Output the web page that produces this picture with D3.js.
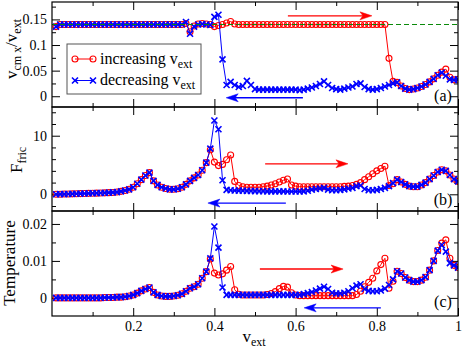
<!DOCTYPE html>
<html><head><meta charset="utf-8">
<script src="https://cdn.jsdelivr.net/npm/d3@7/dist/d3.min.js"></script>
<style>
html,body{margin:0;padding:0;background:#fff}
svg{display:block}
</style>
</head><body>
<svg id="chart" width="463" height="350"></svg>
<script>
// ---------- data ----------
const vext = [0.01,0.02,0.03,0.04,0.05,0.06,0.07,0.08,0.09,0.10,
0.11,0.12,0.13,0.14,0.15,0.16,0.17,0.18,0.19,0.20,
0.21,0.22,0.23,0.24,0.25,0.26,0.27,0.28,0.29,0.30,
0.31,0.32,0.33,0.34,0.35,0.36,0.37,0.38,0.39,0.40,
0.41,0.42,0.43,0.44,0.45,0.46,0.47,0.48,0.49,0.50,
0.51,0.52,0.53,0.54,0.55,0.56,0.57,0.58,0.59,0.60,
0.61,0.62,0.63,0.64,0.65,0.66,0.67,0.68,0.69,0.70,
0.71,0.72,0.73,0.74,0.75,0.76,0.77,0.78,0.79,0.80,
0.81,0.82,0.83,0.84,0.85,0.86,0.87,0.88,0.89,0.90,
0.91,0.92,0.93,0.94,0.95,0.96,0.97,0.98,0.99,1.00];

const velIncreasing = [0.136,0.14,0.14,0.14,0.14,0.14,0.14,0.14,0.14,0.14,
0.14,0.14,0.14,0.14,0.14,0.14,0.14,0.14,0.14,0.14,
0.14,0.14,0.14,0.14,0.14,0.14,0.14,0.14,0.14,0.14,
0.14,0.14,0.142,0.126,0.137,0.141,0.142,0.141,0.140,0.136,
0.138,0.140,0.143,0.146,0.141,0.14,0.14,0.14,0.14,0.14,
0.14,0.14,0.14,0.14,0.14,0.14,0.14,0.14,0.14,0.14,
0.14,0.14,0.14,0.14,0.14,0.14,0.14,0.14,0.14,0.14,
0.14,0.14,0.14,0.14,0.14,0.14,0.14,0.14,0.14,0.14,
0.14,0.14,0.074,0.029,0.027,0.020,0.015,0.013,0.014,0.016,
0.019,0.023,0.028,0.034,0.041,0.047,0.053,0.037,0.032,0.033];

const velDecreasing = [0.136,0.14,0.14,0.14,0.14,0.14,0.14,0.14,0.14,0.14,
0.14,0.14,0.14,0.14,0.14,0.14,0.14,0.14,0.14,0.14,
0.14,0.14,0.14,0.14,0.14,0.14,0.14,0.14,0.14,0.14,
0.14,0.14,0.145,0.122,0.136,0.140,0.141,0.140,0.139,0.155,
0.159,0.072,0.022,0.028,0.022,0.018,0.020,0.030,0.022,0.014,
0.013,0.013,0.013,0.013,0.013,0.013,0.013,0.013,0.013,0.013,
0.012,0.013,0.015,0.017,0.020,0.024,0.029,0.022,0.016,0.014,
0.013,0.015,0.017,0.019,0.024,0.025,0.018,0.014,0.013,0.014,
0.016,0.019,0.022,0.025,0.027,0.020,0.015,0.013,0.014,0.016,
0.019,0.023,0.028,0.034,0.041,0.046,0.040,0.033,0.032,0.033];

const fricIncreasing = [0.00,0.02,0.04,0.06,0.08,0.10,0.12,0.14,0.16,0.18,
0.20,0.22,0.25,0.28,0.32,0.38,0.50,0.65,0.85,1.20,
1.80,2.50,3.20,3.70,2.30,1.60,1.20,1.00,0.85,0.85,
0.95,1.20,1.70,2.30,2.80,3.30,4.10,5.40,7.60,5.50,
4.90,5.10,5.90,6.70,2.20,1.50,1.30,1.20,1.20,1.20,
1.20,1.30,1.40,1.60,1.80,2.10,2.40,2.60,1.60,1.40,
1.30,1.30,1.30,1.30,1.30,1.30,1.30,1.30,1.30,1.30,
1.30,1.35,1.40,1.50,1.70,2.00,2.50,3.00,3.50,4.00,
4.40,4.80,1.50,1.80,2.50,2.10,1.70,1.40,1.30,1.30,
1.60,2.00,2.60,3.20,3.80,4.20,4.00,3.30,2.60,2.20];

const fricDecreasing = [0.00,0.02,0.04,0.06,0.08,0.10,0.12,0.14,0.16,0.18,
0.20,0.22,0.25,0.28,0.32,0.38,0.50,0.65,0.85,1.20,
1.80,2.50,3.20,3.70,2.30,1.60,1.20,1.00,0.85,0.85,
0.95,1.20,1.70,2.30,2.80,3.30,4.10,5.40,7.80,12.60,
11.10,2.40,0.75,0.70,0.65,0.62,0.60,0.58,0.56,0.55,
0.52,0.52,0.50,0.50,0.50,0.50,0.50,0.48,0.48,0.48,
0.48,0.50,0.60,0.80,0.90,1.00,1.10,0.80,0.70,0.70,
0.75,0.85,1.00,1.10,1.40,1.50,0.90,0.70,0.70,0.75,
0.90,1.10,1.40,1.90,2.50,2.10,1.70,1.40,1.30,1.30,
1.60,2.00,2.60,3.20,3.80,4.20,4.00,3.30,2.60,2.20];

const tempIncreasing = [0.0000,0.0000,0.0000,0.0000,0.0000,0.0000,0.0000,0.0000,0.0000,0.0000,
0.0000,0.0000,0.0001,0.0001,0.0001,0.0002,0.0002,0.0003,0.0005,0.0008,
0.0013,0.0019,0.0024,0.0028,0.0015,0.0008,0.0005,0.0004,0.0004,0.0005,
0.0007,0.0011,0.0018,0.0026,0.0030,0.0037,0.0053,0.0071,0.0105,0.0067,
0.0062,0.0065,0.0075,0.0085,0.0022,0.0010,0.0008,0.0008,0.0008,0.0008,
0.0008,0.0008,0.0009,0.0012,0.0017,0.0025,0.0031,0.0029,0.0014,0.0008,
0.0006,0.0006,0.0006,0.0006,0.0006,0.0006,0.0006,0.0006,0.0006,0.0006,
0.0006,0.0006,0.0006,0.0006,0.0009,0.0018,0.0030,0.0042,0.0053,0.0073,
0.0090,0.0107,0.0026,0.0045,0.0072,0.0066,0.0055,0.0048,0.0044,0.0044,
0.0048,0.0056,0.0075,0.0100,0.0128,0.0148,0.0157,0.0107,0.0088,0.0082];

const tempDecreasing = [0.0000,0.0000,0.0000,0.0000,0.0000,0.0000,0.0000,0.0000,0.0000,0.0000,
0.0000,0.0000,0.0001,0.0001,0.0001,0.0002,0.0002,0.0003,0.0005,0.0008,
0.0013,0.0019,0.0024,0.0028,0.0015,0.0008,0.0005,0.0004,0.0004,0.0005,
0.0007,0.0011,0.0018,0.0026,0.0030,0.0037,0.0053,0.0071,0.0107,0.0193,
0.0136,0.0028,0.0008,0.0008,0.0008,0.0008,0.0008,0.0008,0.0008,0.0008,
0.0008,0.0008,0.0008,0.0008,0.0008,0.0008,0.0008,0.0008,0.0008,0.0008,
0.0008,0.0010,0.0013,0.0016,0.0020,0.0025,0.0030,0.0024,0.0014,0.0012,
0.0012,0.0014,0.0018,0.0026,0.0033,0.0037,0.0024,0.0019,0.0018,0.0018,
0.0020,0.0025,0.0035,0.0050,0.0072,0.0066,0.0055,0.0048,0.0044,0.0044,
0.0048,0.0056,0.0075,0.0100,0.0128,0.0143,0.0125,0.0094,0.0088,0.0082];

const xMajorTicks = [0.2,0.4,0.6,0.8,1];
const xTickLabels = ["0.2","0.4","0.6","0.8","1"];
const xMinorTicks = [0.1,0.3,0.5,0.7,0.9];
const velMajorTicks = [0,0.05,0.1,0.15];
const velTickLabels = ["0","0.05","0.1","0.15"];
const velMinorTicks = [0.025,0.075,0.125,0.175];
const fricMajorTicks = [0,10];
const fricTickLabels = ["0","10"];
const fricMinorTicks = [-2,2,4,6,8,12,14];
const tempMajorTicks = [0,0.01,0.02];
const tempTickLabels = ["0","0.01","0.02"];
const tempMinorTicks = [0.005,0.015];
const plateauValue = 0.14;
const legendLabels = ["increasing", "decreasing"];
const panelLetters = ["(a)","(b)","(c)"];
// arrows: [xTail, xHead, y]
const velArrows = [[0.581,0.788,0.157],[0.618,0.429,-0.003]];
const fricArrows = [[0.525,0.729,5.2],[0.576,0.384,-1.5]];
const tempArrows = [[0.512,0.717,0.0078],[0.81,0.621,-0.0027]];

// ---------- layout ----------
const svg = d3.select("#chart");
const FONT = "Liberation Serif";
const left = 52, right = 458;
const RED = "#ff0000", BLUE = "#0000ff";

const x = d3.scaleLinear().domain([0,1]).range([left,right]);

const panels = [
  {top:2, bottom:107, domain:[-0.021,0.184], inc:velIncreasing, dec:velDecreasing,
   major:velMajorTicks, labels:velTickLabels, minor:velMinorTicks, arrows:velArrows,
   letterY:101},
  {top:107, bottom:211, domain:[-2.85,14.9], inc:fricIncreasing, dec:fricDecreasing,
   major:fricMajorTicks, labels:fricTickLabels, minor:fricMinorTicks, arrows:fricArrows,
   letterY:205},
  {top:211, bottom:316, domain:[-0.0049,0.0235], inc:tempIncreasing, dec:tempDecreasing,
   major:tempMajorTicks, labels:tempTickLabels, minor:tempMinorTicks, arrows:tempArrows,
   letterY:307}
];

const crossPath = "M-3,-3L3,3M-3,3L3,-3";

panels.forEach((p, pi) => {
  const y = d3.scaleLinear().domain(p.domain).range([p.bottom, p.top]);
  const g = svg.append("g");
  const clipId = "clip" + pi;
  svg.append("clipPath").attr("id", clipId).append("rect")
    .attr("x", left).attr("y", p.top).attr("width", right-left).attr("height", p.bottom-p.top);

  const mk = (axisFn, scale, vals, size, fmt, tr) => {
    const a = axisFn(scale).tickValues(vals).tickSize(size).tickSizeOuter(0).tickPadding(5);
    a.tickFormat(fmt);
    const ag = g.append("g").attr("transform", tr).call(a);
    ag.attr("font-family", FONT);
    ag.select(".domain").remove();
    ag.selectAll("line").attr("stroke","#000").attr("stroke-width",1);
    ag.selectAll("text").attr("font-size", 14).attr("fill","#000");
    return ag;
  };
  const blank = () => "";
  const xMajFmt = (d,i) => (pi === 2 ? xTickLabels[i] : "");
  mk(d3.axisBottom, x, xMajorTicks, -8, xMajFmt, `translate(0,${p.bottom})`);
  mk(d3.axisBottom, x, xMinorTicks, -4, blank, `translate(0,${p.bottom})`);
  mk(d3.axisTop, x, xMajorTicks, -8, blank, `translate(0,${p.top})`);
  mk(d3.axisTop, x, xMinorTicks, -4, blank, `translate(0,${p.top})`);
  mk(d3.axisLeft, y, p.major, -8, (d,i) => p.labels[i], `translate(${left},0)`);
  mk(d3.axisLeft, y, p.minor, -4, blank, `translate(${left},0)`);
  mk(d3.axisRight, y, p.major, -8, blank, `translate(${right},0)`);
  mk(d3.axisRight, y, p.minor, -4, blank, `translate(${right},0)`);

  const data = vext.map((v,i) => ({v, inc:p.inc[i], dec:p.dec[i]}));
  const plot = g.append("g").attr("clip-path", `url(#${clipId})`);

  plot.append("path").datum(data)
    .attr("d", d3.line().x(d=>x(d.v)).y(d=>y(d.inc)))
    .attr("fill","none").attr("stroke",RED).attr("stroke-width",1);
  plot.selectAll(".inc").data(data).enter().append("circle")
    .attr("cx", d=>x(d.v)).attr("cy", d=>y(d.inc)).attr("r",3)
    .attr("fill","none").attr("stroke",RED).attr("stroke-width",1.1);

  plot.append("path").datum(data)
    .attr("d", d3.line().x(d=>x(d.v)).y(d=>y(d.dec)))
    .attr("fill","none").attr("stroke",BLUE).attr("stroke-width",1);
  plot.selectAll(".dec").data(data).enter().append("path")
    .attr("d", crossPath)
    .attr("transform", d=>`translate(${x(d.v)},${y(d.dec)})`)
    .attr("fill","none").attr("stroke",BLUE).attr("stroke-width",1.6);

  if (pi === 0) {
    plot.append("line")
      .attr("x1", x(0)).attr("x2", x(1))
      .attr("y1", y(plateauValue)).attr("y2", y(plateauValue))
      .attr("stroke","#0a8a0a").attr("stroke-width",1.1).attr("stroke-dasharray","5,3");
  }

  p.arrows.forEach((a, ai) => {
    const col = ai === 0 ? RED : BLUE;
    const xt = x(a[0]), xh = x(a[1]), yy = y(a[2]);
    const dir = xh > xt ? 1 : -1;
    g.append("line").attr("x1", xt).attr("x2", xh - dir*8).attr("y1", yy).attr("y2", yy)
      .attr("stroke", col).attr("stroke-width", 1.4);
    g.append("path")
      .attr("d", `M${xh},${yy}L${xh-dir*12},${yy-4}L${xh-dir*9},${yy}L${xh-dir*12},${yy+4}Z`)
      .attr("fill", col).attr("stroke", col).attr("stroke-width", 0.5);
  });

  g.append("rect").attr("x", left).attr("y", p.top).attr("width", right-left)
    .attr("height", p.bottom-p.top).attr("fill","none").attr("stroke","#000").attr("stroke-width",1.2);

  g.append("text").attr("x", 443).attr("y", p.letterY).attr("text-anchor","middle")
    .attr("font-family", FONT).attr("font-size", 16).text(panelLetters[pi]);
});

function subText(sel, parts) {
  parts.forEach(pt => {
    const t = sel.append("tspan").text(pt.t);
    if (pt.sub) t.attr("font-size", 12).attr("dy", 4);
    else if (pt.up) t.attr("dy", -4);
  });
}
const xt = svg.append("text").attr("x", 254).attr("y", 342).attr("text-anchor","middle")
  .attr("font-family", FONT).attr("font-size", 17);
subText(xt, [{t:"v"},{t:"ext", sub:true}]);

const yA = svg.append("text").attr("transform","translate(17,49) rotate(-90)")
  .attr("text-anchor","middle").attr("font-family", FONT).attr("font-size", 17);
subText(yA, [{t:"v"},{t:"cm x", sub:true},{t:"/v", up:true},{t:"ext", sub:true}]);

const yB = svg.append("text").attr("transform","translate(22,160) rotate(-90)")
  .attr("text-anchor","middle").attr("font-family", FONT).attr("font-size", 17);
subText(yB, [{t:"F"},{t:"fric", sub:true}]);

svg.append("text").attr("transform","translate(15,263) rotate(-90)")
  .attr("text-anchor","middle").attr("font-family", FONT).attr("font-size", 17)
  .text("Temperature");

const lg = svg.append("g");
lg.append("rect").attr("x",67).attr("y",44).attr("width",134).attr("height",50)
  .attr("fill","#fff").attr("stroke","#555").attr("stroke-width",1);
[0,1].forEach(i => {
  const yy = i === 0 ? 59 : 80.5;
  const col = i === 0 ? RED : BLUE;
  lg.append("line").attr("x1",75).attr("x2",93).attr("y1",yy).attr("y2",yy)
    .attr("stroke",col).attr("stroke-width",1);
  [75,93].forEach(cx => {
    if (i === 0) lg.append("circle").attr("cx",cx).attr("cy",yy).attr("r",3)
      .attr("fill","none").attr("stroke",RED).attr("stroke-width",1.1);
    else lg.append("path").attr("d",crossPath).attr("transform",`translate(${cx},${yy})`)
      .attr("fill","none").attr("stroke",BLUE).attr("stroke-width",1.6);
  });
  const t = lg.append("text").attr("x",100).attr("y",yy+4.5)
    .attr("font-family", FONT).attr("font-size", 16);
  subText(t, [{t: legendLabels[i] + " v"},{t:"ext", sub:true}]);
});
</script>
</body></html>
